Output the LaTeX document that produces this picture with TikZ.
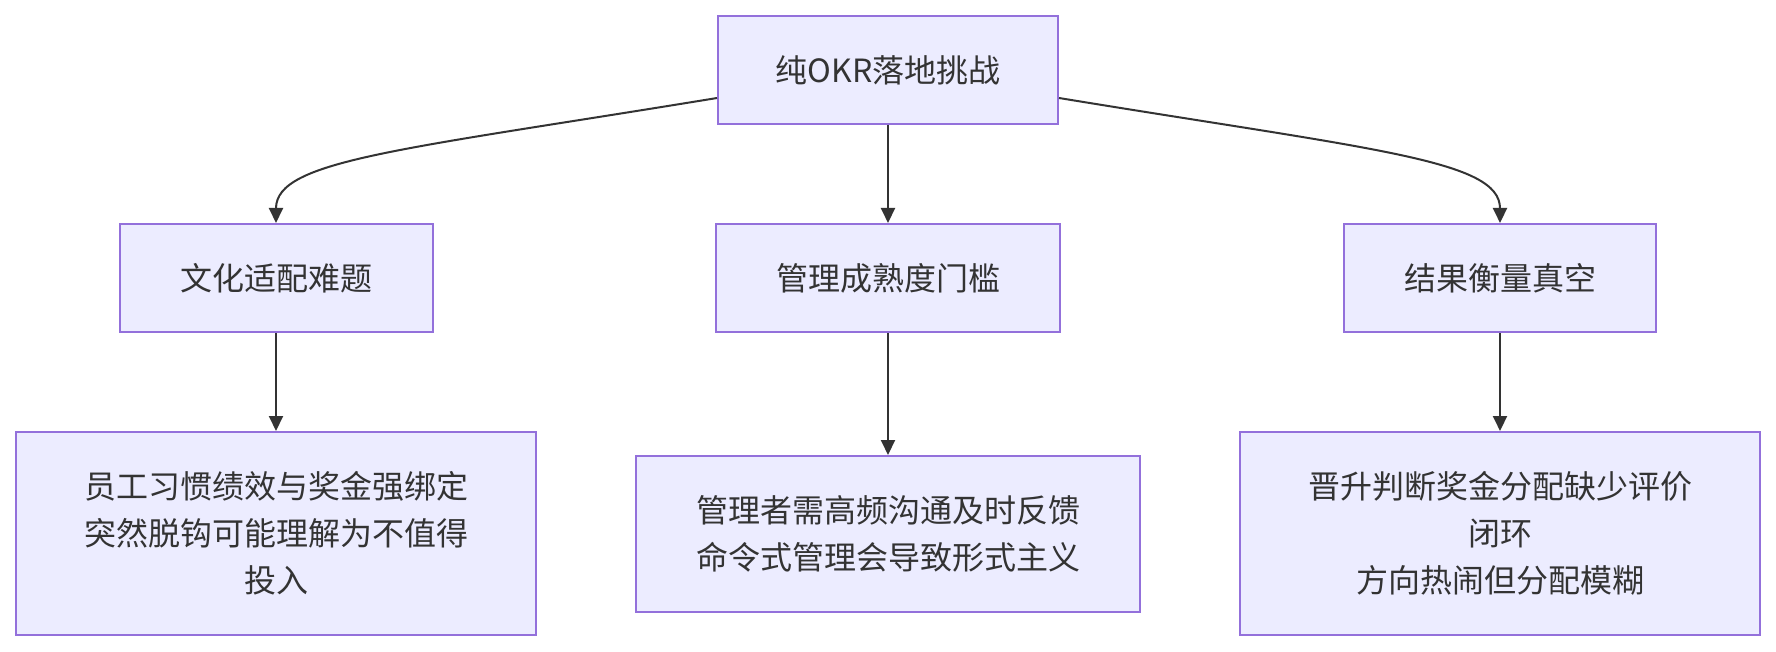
\documentclass[tikz,border=0pt]{standalone}
\usepackage{fontspec}
\setmainfont{Noto Sans CJK SC}
\usetikzlibrary{positioning,arrows.meta}
\definecolor{boxfill}{HTML}{ECECFF}
\definecolor{boxline}{HTML}{9370DB}
\definecolor{inkgray}{HTML}{333333}
\tikzset{
  okrbox/.style={draw=boxline, fill=boxfill, line width=2pt, align=center,
                 text=inkgray, inner sep=0pt,
                 font=\fontsize{32}{47}\selectfont},
  okredge/.style={-{Triangle[length=15pt,width=14pt]}, draw=inkgray, line width=2pt},
}
\newcommand{\ColL}{276}
\newcommand{\ColM}{888}
\newcommand{\ColR}{1500}

\begin{document}
\begin{tikzpicture}[x=1pt,y=-1pt]
  \useasboundingbox (0,0) rectangle (1776,652);

  % top
  \node[okrbox, minimum width=340pt, minimum height=108pt] (root) at (\ColM,70) {纯OKR落地挑战};

  % second row
  \node[okrbox, minimum width=313pt, minimum height=108pt] (culture) at (\ColL,278) {文化适配难题};
  \node[okrbox, minimum width=344pt, minimum height=108pt] (mature) at (\ColM,278) {管理成熟度门槛};
  \node[okrbox, minimum width=312pt, minimum height=108pt] (measure) at (\ColR,278) {结果衡量真空};

  % third row
  \node[okrbox, minimum width=520pt, minimum height=203pt] (cultureD) at (\ColL,533.5)
       {员工习惯绩效与奖金强绑定\\突然脱钩可能理解为不值得\\投入};
  \node[okrbox, minimum width=504pt, minimum height=156pt] (matureD) at (\ColM,534)
       {管理者需高频沟通及时反馈\\命令式管理会导致形式主义};
  \node[okrbox, minimum width=520pt, minimum height=203pt] (measureD) at (\ColR,533.5)
       {晋升判断奖金分配缺少评价\\闭环\\方向热闹但分配模糊};

  % connectors
  \draw[okredge] ([yshift=-28pt]root.west) .. controls (400,150) and (\ColL,160) .. (culture.north);
  \draw[okredge] (root.south) -- (mature.north);
  \draw[okredge] ([yshift=-28pt]root.east) .. controls (1376,150) and (\ColR,160) .. (measure.north);

  \foreach \a/\b in {culture/cultureD, mature/matureD, measure/measureD}
    \draw[okredge] (\a.south) -- (\b.north);

\end{tikzpicture}
\end{document}
